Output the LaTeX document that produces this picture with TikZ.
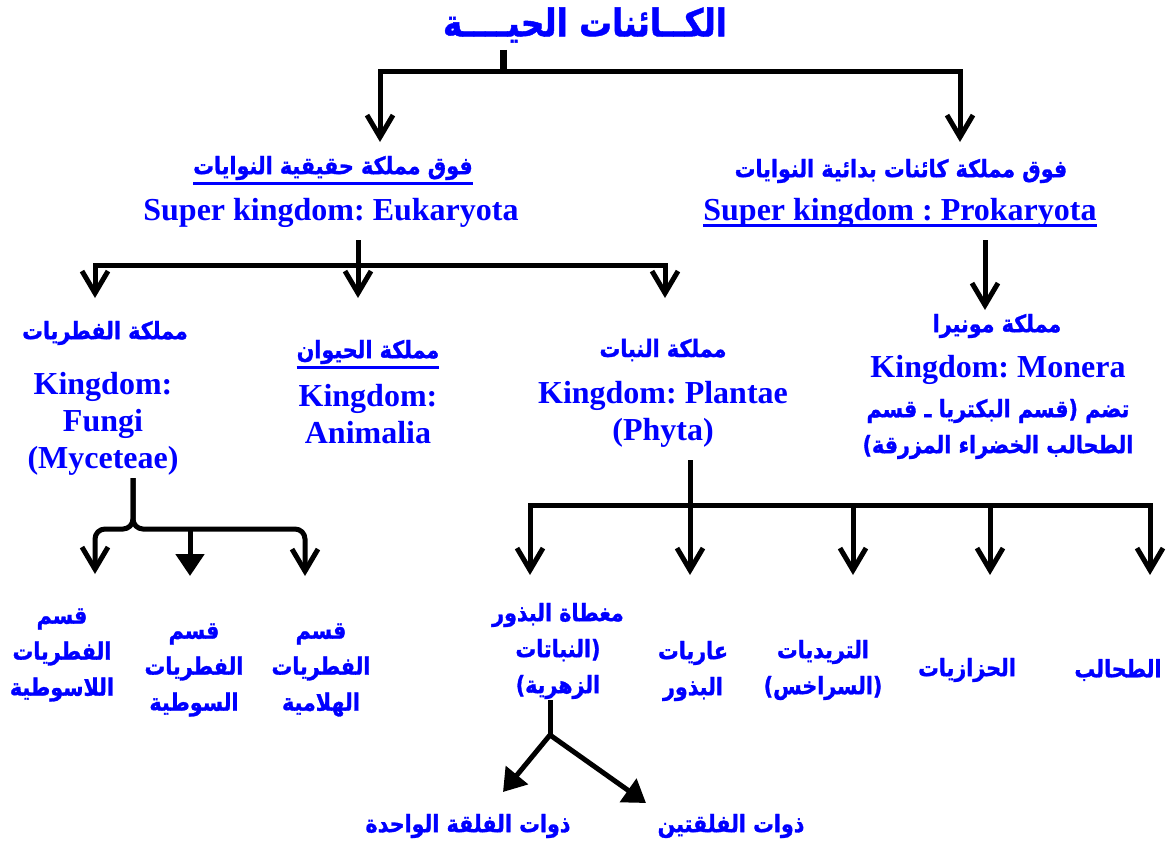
\documentclass[tikz,border=0pt]{standalone}
\usepackage{fontspec}
\setmainfont{Liberation Serif}
\newfontfamily\arabicfont[Script=Arabic, FakeStretch=0.86, FakeBold=1.2]{DejaVu Sans}
\usetikzlibrary{arrows.meta}
\TeXXeTstate=1
\frenchspacing
\definecolor{kblue}{RGB}{0,0,255}
\tikzset{
  ar/.style={font=\arabicfont\bfseries\fontsize{24}{36}\selectfont, text=kblue, align=center, inner sep=0pt},
  la/.style={font=\bfseries\fontsize{32}{37}\selectfont, text=kblue, align=center, inner sep=0pt},
  link/.style={line width=5pt, black},
  barb/.style={link, -{Straight Barb[length=22pt,width=26pt]}},
  tri/.style={link, -{Triangle[length=22pt,width=28pt]}},
  uline/.style={kblue, line width=3pt}
}

\begin{document}
\begin{tikzpicture}[x=1pt,y=-1pt]
\useasboundingbox (0,0) rectangle (1168,843);
% title
\node [ar, font=\arabicfont\bfseries\fontsize{38}{40}\selectfont] (title) at (585,25) {\beginR الكــائنات الحيــــة\endR};
\coordinate (t0) at (503,50);
\coordinate (t1) at (503,72);
\coordinate (eT) at (380,142);
\coordinate (pT) at (960,142);
\draw [link, line width=7pt] (t0)--(t1);
\draw [barb] (t1) -| (eT);
\draw [barb] (t1) -| (pT);
% super kingdoms
\node [ar] (eukAr) at (333,168) {\beginR فوق مملكة حقيقية النوايات\endR};
\node [la] (eukLa) at (331,213) {Super kingdom: Eukaryota};
\draw [uline] ([yshift=-9pt]eukAr.base west)--([yshift=-9pt]eukAr.base east);
\node [ar] (proAr) at (901,171) {\beginR فوق مملكة كائنات بدائية النوايات\endR};
\node [la] (proLa) at (900,213) {Super kingdom : Prokaryota};
\draw [uline] ([yshift=-5pt]proLa.base west)--([yshift=-5pt]proLa.base east);
% eukaryota branch
\coordinate (e0) at (358,240);
\coordinate (e1) at (358,265);
\coordinate (fT) at (95,298);
\coordinate (aT) at (358,298);
\coordinate (plT) at (665,298);
\draw [barb] (e1) -| (fT);
\draw [barb] (e0)--(aT);
\draw [barb] (e1) -| (plT);
% kingdoms
\node [ar] (fungAr) at (105,333) {\beginR مملكة الفطريات\endR};
\node [la] (fungLa) at (103,424) {Kingdom:\\Fungi\\(Myceteae)};
\node [ar] (animAr) at (368,352) {\beginR مملكة الحيوان\endR};
\draw [uline] ([yshift=-9pt]animAr.base west)--([yshift=-9pt]animAr.base east);
\node [la] (animLa) at (368,414) {Kingdom:\\Animalia};
\node [ar] (plantAr) at (663,350) {\beginR مملكة النبات\endR};
\node [la] (plantLa) at (663,414) {Kingdom: Plantae\\(Phyta)};
% monera
\coordinate (m0) at (985,240);
\coordinate (mT) at (985,310);
\draw [barb] (m0)--(mT);
\node [ar] (monAr) at (997,326) {\beginR مملكة مونيرا\endR};
\node [la] (monLa) at (998,370) {Kingdom: Monera};
\node [ar] (monSub) at (998,429) {\beginR تضم (قسم البكتريا ـ قسم\endR\\\beginR الطحالب الخضراء المزرقة)\endR};
% fungi divisions
\coordinate (f0) at (133,478);
\coordinate (f1) at (133,529);
\coordinate (fd1T) at (95,574);
\coordinate (fd2T) at (190,576);
\coordinate (fd3T) at (305,576);
\draw [barb, rounded corners=10pt] (f0)--(f1) -| (fd1T);
\draw [barb, rounded corners=10pt] (f0)--(f1) -| (fd3T);
\draw [tri] (fd2T |- f1)--(fd2T);
\node [ar] (fd1) at (62,655) {\beginR قسم\endR\\\beginR الفطريات\endR\\\beginR اللاسوطية\endR};
\node [ar] (fd2) at (194,670) {\beginR قسم\endR\\\beginR الفطريات\endR\\\beginR السوطية\endR};
\node [ar] (fd3) at (321,670) {\beginR قسم\endR\\\beginR الفطريات\endR\\\beginR الهلامية\endR};
% plant divisions
\coordinate (p0) at (690,460);
\coordinate (p1) at (690,505);
\coordinate (pd1T) at (530,575);
\coordinate (pd2T) at (690,575);
\coordinate (pd3T) at (853,575);
\coordinate (pd4T) at (990,575);
\coordinate (pd5T) at (1150,575);
\draw [link] (p0)--(p1);
\draw [barb] (p1) -| (pd1T);
\draw [barb] (p1)--(pd2T);
\draw [barb] (p1) -| (pd3T);
\draw [barb] (p1) -| (pd4T);
\draw [barb] (p1) -| (pd5T);
\node [ar] (angio) at (558,651) {\beginR مغطاة البذور\endR\\\beginR (النباتات\endR\\\beginR الزهرية)\endR};
\node [ar] (gymno) at (693,671) {\beginR عاريات\endR\\\beginR البذور\endR};
\node [ar] (fern) at (823,670) {\beginR التريديات\endR\\\beginR (السراخس)\endR};
\node [ar] (moss) at (967,670) {\beginR الحزازيات\endR};
\node [ar] (alga) at (1118,670) {\beginR الطحالب\endR};
% angiosperm classes
\coordinate (g0) at (550,700);
\coordinate (g1) at (550,735);
\coordinate (monoT) at (503,792);
\coordinate (dicoT) at (646,803);
\draw [link] (g0)--(g1);
\draw [tri] (g1)--(monoT);
\draw [tri] (g1)--(dicoT);
\node [ar] (mono) at (468,826) {\beginR ذوات الفلقة الواحدة\endR};
\node [ar] (dico) at (731,826) {\beginR ذوات الفلقتين\endR};
\end{tikzpicture}
\end{document}
